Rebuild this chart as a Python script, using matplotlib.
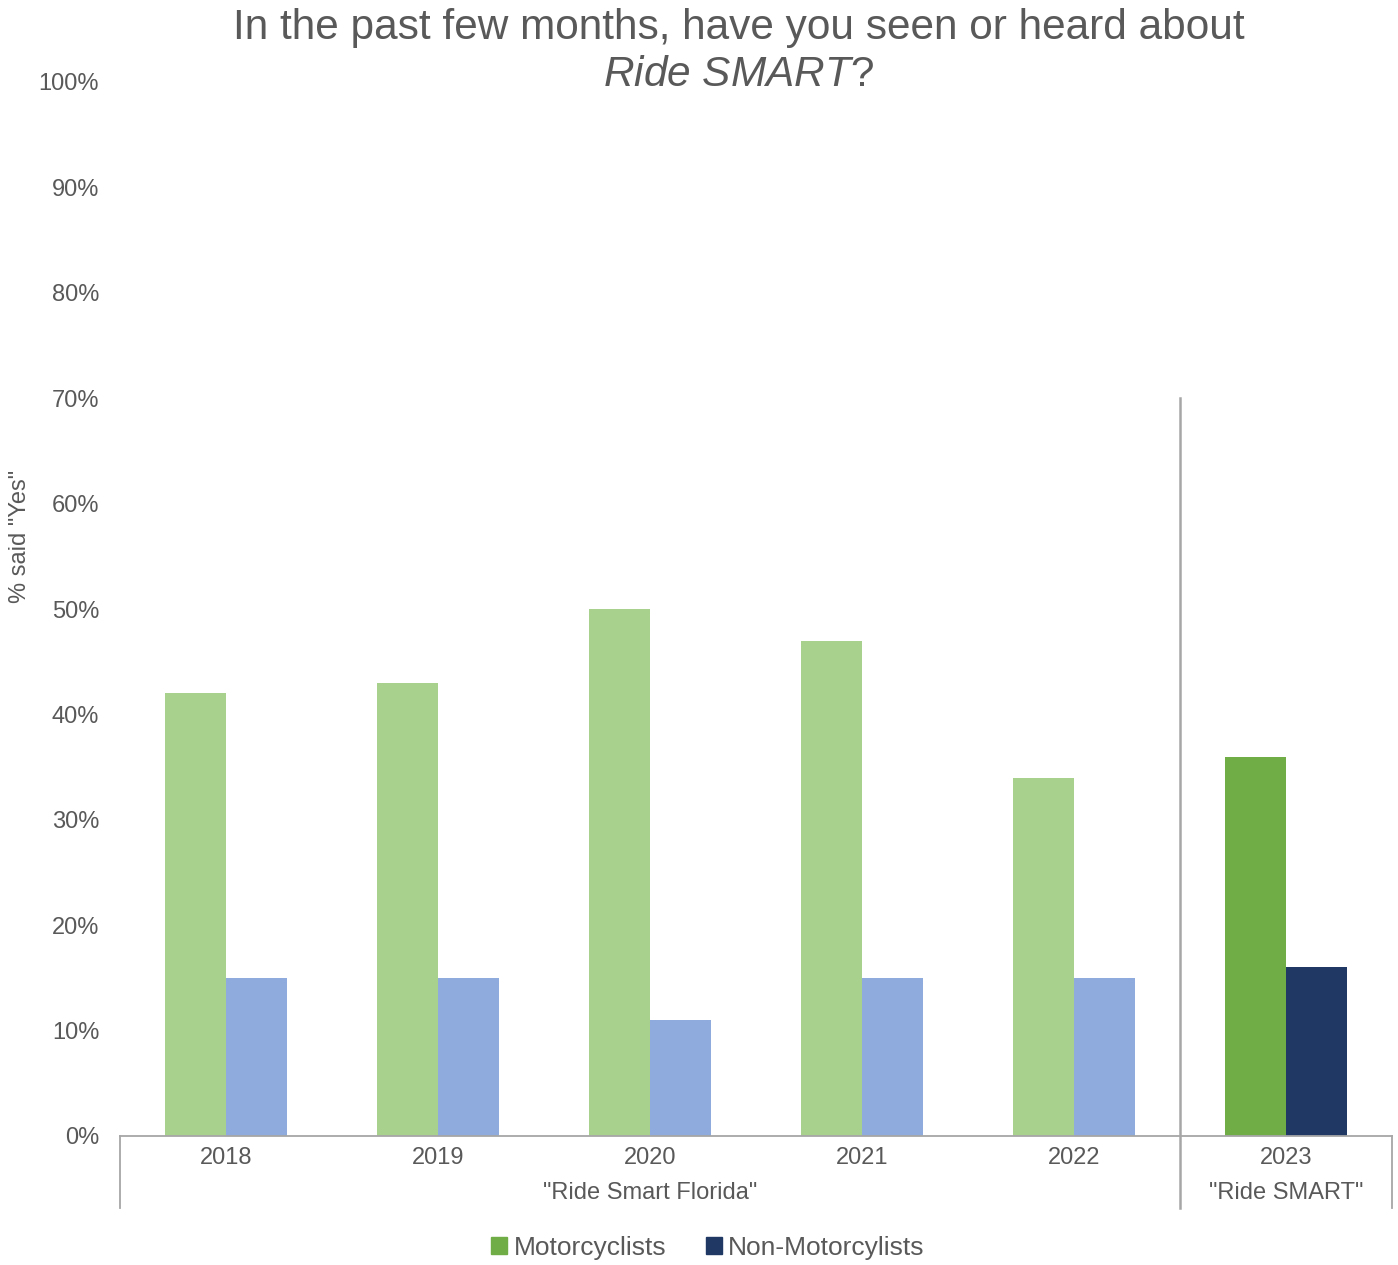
import matplotlib
matplotlib.use("Agg")
import matplotlib.pyplot as plt
from matplotlib.patches import Patch
from matplotlib.transforms import blended_transform_factory

plt.rcParams['font.family'] = ['Liberation Sans', 'DejaVu Sans']
plt.rcParams['mathtext.fontset'] = 'custom'
plt.rcParams['mathtext.it'] = 'Liberation Sans:italic'
plt.rcParams['mathtext.rm'] = 'Liberation Sans'

years = ["2018", "2019", "2020", "2021", "2022", "2023"]
motorcyclists = [42, 43, 50, 47, 34, 36]
non_motorcyclists = [15, 15, 11, 15, 15, 16]
group_labels = ['"Ride Smart Florida"', '"Ride SMART"']
group_spans = [(0, 4), (5, 5)]
yticks = list(range(0, 101, 10))

light_green = "#A9D18E"
light_blue = "#8FAADC"
dark_green = "#70AD47"
dark_navy = "#203864"
text_color = "#595959"
line_color = "#A6A6A6"

W, H = 1398, 1265
fig = plt.figure(figsize=(W / 100, H / 100), dpi=100)
ax = fig.add_axes([120 / W, (H - 1136) / H, (1392 - 120) / W, (1136 - 82) / H])

x = list(range(len(years)))
bw = 0.288
m_colors = [light_green] * 5 + [dark_green]
n_colors = [light_blue] * 5 + [dark_navy]
ax.bar([i - bw / 2 for i in x], motorcyclists, width=bw, color=m_colors)
ax.bar([i + bw / 2 for i in x], non_motorcyclists, width=bw, color=n_colors)

ax.set_xlim(-0.5, len(years) - 0.5)
ax.set_ylim(0, 100)
ax.set_yticks(yticks)
ax.set_yticklabels([f"{v}%" for v in yticks], fontsize=17, color=text_color)
ax.tick_params(axis='y', length=0, pad=15)
ax.set_xticks([])
for s in ['top', 'right', 'left']:
    ax.spines[s].set_visible(False)
ax.spines['bottom'].set_color(line_color)
ax.spines['bottom'].set_linewidth(1.3)

fig.text(20 / W, 1 - 536 / H, '% said "Yes"', rotation=90, ha='center', va='center',
         fontsize=17, color=text_color)

trans = blended_transform_factory(ax.transData, ax.transAxes)
# year labels
for i, y in enumerate(years):
    ax.text(i, -(1158 - 1136) / (1136 - 82), y, transform=trans, ha='center', va='center',
            fontsize=17, color=text_color)
# group labels
for lab, (a, b) in zip(group_labels, group_spans):
    ax.text((a + b) / 2, -(1193 - 1136) / (1136 - 82), lab, transform=trans, ha='center',
            va='center', fontsize=17, color=text_color)
# separators below axis
bottom_sep = -(1208 - 1136) / (1136 - 82)
for xs in [-0.5, 5.5]:
    ax.plot([xs, xs], [0, bottom_sep], transform=trans, color=line_color, lw=1.3, clip_on=False)
# divider between groups
ax.plot([4.5, 4.5], [0.70, bottom_sep], transform=trans, color=line_color, lw=1.8, clip_on=False)

# title
fig.text(739 / W, 1 - 28 / H, "In the past few months, have you seen or heard about",
         ha='center', va='center', fontsize=30.5, color=text_color)
fig.text(739 / W, 1 - 75 / H, r"$\mathit{Ride\ SMART}$?",
         ha='center', va='center', fontsize=30.5, color=text_color)

handles = [Patch(color=dark_green, label="Motorcyclists"),
           Patch(color=dark_navy, label="Non-Motorcylists")]
leg = fig.legend(handles=handles, loc='center', bbox_to_anchor=(708 / W, 1 - 1248 / H),
                 ncol=2, frameon=False, fontsize=19, handlelength=0.6, handleheight=0.6,
                 handletextpad=0.25, columnspacing=1.5)
for t in leg.get_texts():
    t.set_color(text_color)

fig.savefig("out.png", dpi=100)
